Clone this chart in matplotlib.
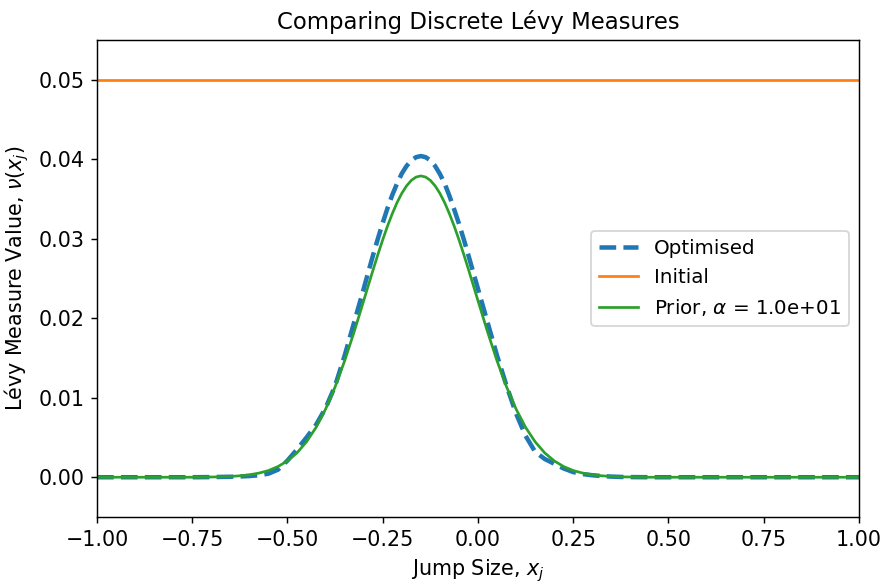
import matplotlib.pyplot as plt
import numpy as np

# discrete jump sizes x_j, finer spacing around the peak
jump_sizes = np.concatenate([
    np.linspace(-1.0, -0.325, 28),
    np.linspace(-0.3, -0.0125, 24),
    np.linspace(0.0, 1.0, 41),
])

# Levy measure values nu(x_j) on the grid above
optimised = [
    0.0, 0.0, 0.0, 0.0, 0.0, 0.0, 0.0, 0.0, 0.0, 0.0, 0.0,
    0.00001, 0.00002, 0.00004, 0.00006, 0.00010, 0.00015, 0.00025, 0.00045,
    0.00095, 0.00210, 0.00350, 0.00500, 0.00660, 0.00870, 0.01150, 0.01530,
    0.01950,
    0.02370, 0.02588, 0.02800, 0.03005, 0.03200, 0.03384, 0.03550, 0.03694,
    0.03820, 0.03915, 0.03985, 0.04026, 0.04040, 0.04026, 0.03985, 0.03915,
    0.03815, 0.03694, 0.03540, 0.03369, 0.03190, 0.02995, 0.02790, 0.02578,
    0.02370, 0.01950, 0.01530, 0.01150, 0.00800, 0.00520, 0.00320, 0.00230,
    0.00170, 0.00110, 0.00065, 0.00040, 0.00025, 0.00015, 0.00008, 0.00004,
    0.00002, 0.00001,
    0.0, 0.0, 0.0, 0.0, 0.0, 0.0, 0.0, 0.0, 0.0, 0.0, 0.0, 0.0,
    0.0, 0.0, 0.0, 0.0, 0.0, 0.0, 0.0, 0.0, 0.0, 0.0, 0.0,
]
prior = [
    0.0, 0.0, 0.0, 0.0, 0.0, 0.0, 0.0, 0.0, 0.0, 0.0, 0.0,
    0.00001, 0.00003, 0.00005, 0.00010, 0.00018, 0.00031, 0.00052, 0.00084,
    0.00134, 0.00206, 0.00307, 0.00446, 0.00627, 0.00857, 0.01137, 0.01464,
    0.01830,
    0.02220, 0.02418, 0.02614, 0.02805, 0.02988, 0.03159, 0.03315, 0.03454,
    0.03571, 0.03665, 0.03734, 0.03776, 0.03790, 0.03776, 0.03734, 0.03665,
    0.03571, 0.03454, 0.03315, 0.03159, 0.02988, 0.02805, 0.02614, 0.02418,
    0.02220, 0.01830, 0.01464, 0.01137, 0.00857, 0.00627, 0.00446, 0.00307,
    0.00206, 0.00134, 0.00084, 0.00052, 0.00031, 0.00018, 0.00010, 0.00005,
    0.00003, 0.00001,
    0.0, 0.0, 0.0, 0.0, 0.0, 0.0, 0.0, 0.0, 0.0, 0.0, 0.0, 0.0,
    0.0, 0.0, 0.0, 0.0, 0.0, 0.0, 0.0, 0.0, 0.0, 0.0, 0.0,
]
initial = [0.05] * len(jump_sizes)
alpha = 10.0

plt.rcParams["font.size"] = 11.4

fig = plt.figure(figsize=(885 / 130, 582 / 130), dpi=130)
ax = fig.add_axes([0.1096, 0.1117, 0.861, 0.8196])

ax.plot(jump_sizes, optimised, "--", color="C0", lw=2.5, label="Optimised")
ax.plot(jump_sizes, initial, color="C1", lw=1.5, label="Initial")
ax.plot(jump_sizes, prior, color="C2", lw=1.5, label=rf"Prior, $\alpha$ = {alpha:.1e}")

ax.set_xlim(-1.0, 1.0)
ax.set_ylim(-0.005, 0.055)
ax.set_xlabel(r"Jump Size, $x_j$")
ax.set_ylabel(r"Lévy Measure Value, $\nu(x_j)$")
ax.set_title("Comparing Discrete Lévy Measures", fontsize=12.6)
ax.legend(loc="center right", fontsize=11)

fig.savefig("out.png", dpi=130)
